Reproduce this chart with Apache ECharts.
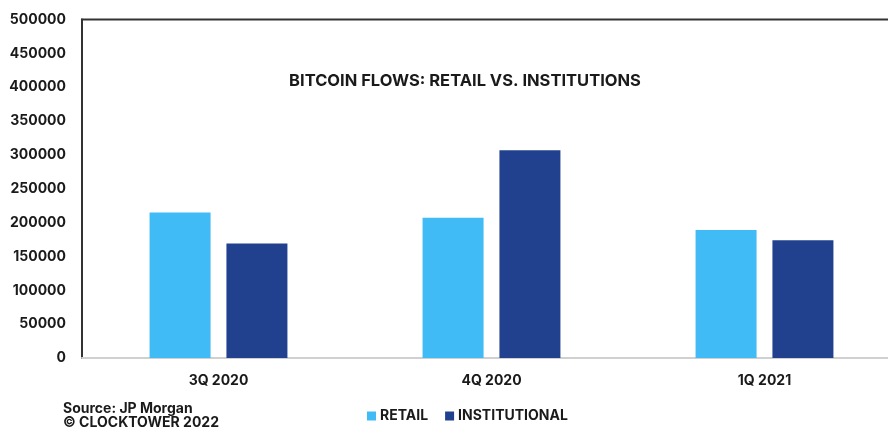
<!DOCTYPE html>
<html>
<head>
<meta charset="utf-8">
<script src="https://cdn.jsdelivr.net/npm/echarts@6/dist/echarts.min.js"></script>
<style>
  html, body { margin: 0; padding: 0; background: #fff; overflow: hidden; }
  /* the plot frame runs past the right edge of the view */
  #chart { width: 902px; height: 433px; }
</style>
</head>
<body>
<div id="chart"></div>
<script>
// Quarterly bitcoin flows by buyer type
const quarters = ['3Q 2020', '4Q 2020', '1Q 2021'];
const retail = [215000, 207000, 189000];
const institutional = [169000, 307000, 174000];
const seriesNames = ['RETAIL', 'INSTITUTIONAL'];

const FONT = 'Inter';
const WEIGHT = 'bold';
const chart = echarts.init(document.getElementById('chart'));

chart.setOption({
  backgroundColor: '#ffffff',
  animation: false,
  title: {
    text: 'BITCOIN FLOWS: RETAIL VS. INSTITUTIONS',
    left: 460,
    top: 68,
    textAlign: 'center',
    textStyle: { fontFamily: FONT, fontWeight: WEIGHT, fontSize: 16.5, color: '#1a1a1a' }
  },
  legend: {
    data: seriesNames,
    left: 362,
    top: 404,
    icon: 'rect',
    itemWidth: 9,
    itemHeight: 9,
    itemGap: 17,
    textStyle: { fontFamily: FONT, fontWeight: WEIGHT, fontSize: 14, color: '#1a1a1a', padding: [0, 0, 0, -1] }
  },
  grid: {
    left: 82,
    right: 1,
    top: 19.5,
    bottom: 75,
    show: true,
    borderColor: '#333333',
    borderWidth: 2,
    containLabel: false
  },
  xAxis: {
    type: 'category',
    data: quarters,
    axisLine: { show: true, lineStyle: { color: '#d0d0d0', width: 2 } },
    axisTick: { show: false },
    axisLabel: { fontFamily: FONT, fontWeight: WEIGHT, fontSize: 14, color: '#1a1a1a', margin: 16 }
  },
  yAxis: {
    type: 'value',
    min: 0,
    max: 500000,
    interval: 50000,
    axisLine: { show: true, lineStyle: { color: '#333333', width: 2 } },
    axisTick: { show: false },
    splitLine: { show: false },
    axisLabel: {
      fontFamily: FONT, fontWeight: WEIGHT, fontSize: 14, color: '#1a1a1a', margin: 16,
      formatter: (v) => String(v)
    }
  },
  series: [
    {
      name: seriesNames[0],
      type: 'bar',
      data: retail,
      barWidth: 61,
      barGap: '26%',
      itemStyle: { color: '#41bbf5' }
    },
    {
      name: seriesNames[1],
      type: 'bar',
      data: institutional,
      barWidth: 61,
      itemStyle: { color: '#21418f' }
    }
  ],
  graphic: [
    {
      type: 'text',
      left: 63,
      top: 402,
      style: {
        text: 'Source: JP Morgan\n© CLOCKTOWER 2022',
        fontFamily: FONT,
        fontWeight: WEIGHT,
        fontSize: 14,
        lineHeight: 14,
        fill: '#1a1a1a'
      }
    }
  ]
});
</script>
</body>
</html>
